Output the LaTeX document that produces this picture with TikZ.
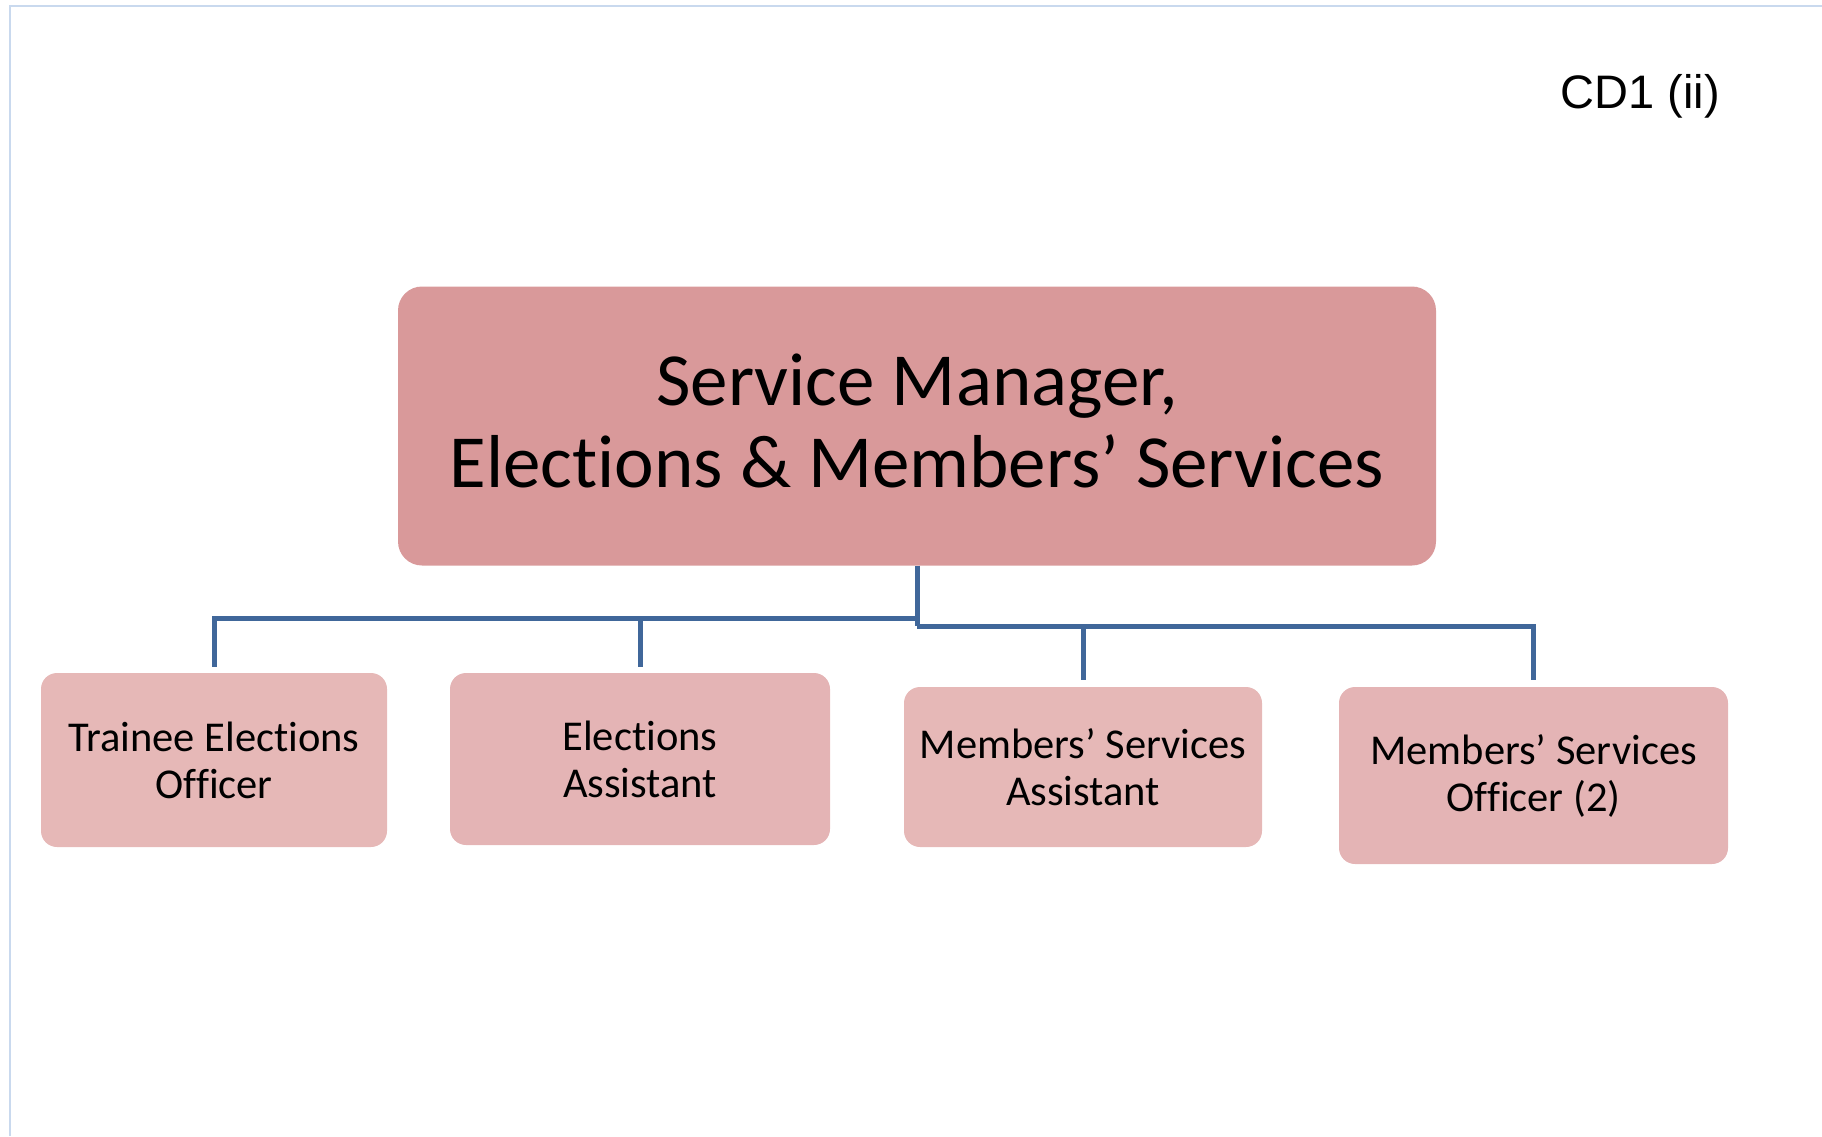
\documentclass[tikz,border=0pt]{standalone}
\usepackage{fontspec}
\setmainfont{Carlito}[Ligatures=NoCommon]
\newfontfamily\cdfont{Liberation Sans}
\usepackage{xcolor}
\usepackage{tikz}
\definecolor{headpink}{HTML}{D9999A}
\definecolor{postpink}{HTML}{E6B8B7}
\definecolor{postdots}{HTML}{E4B4B5}
\definecolor{linkblue}{HTML}{40679A}
\definecolor{pageline}{HTML}{C9D9EE}
\tikzstyle{head}=[%
      rectangle, rounded corners=24pt, draw=none, fill=headpink,
      minimum width=1038pt, minimum height=279pt, inner sep=0pt, align=center,
      text depth=10pt, font=\fontsize{75}{82}\selectfont
]
\tikzstyle{post}=[%
      rectangle, rounded corners=16pt, draw=none, fill=postpink,
      inner sep=0pt, align=center, font=\fontsize{42.5}{47}\selectfont
]
\tikzstyle{link}=[draw=linkblue, line width=5pt]
\begin{document}
\begin{tikzpicture}[x=1pt, y=-1pt]
\useasboundingbox (0,0) rectangle (1822,1136);
\draw[pageline, line width=2pt] (10,1136) -- (10,6) -- (1822,6);

\node[anchor=base west, font=\cdfont\fontsize{47}{56}\selectfont] (tag) at (1557,108) {CD1 (ii)};

\node[head](mgr) at (917,426) {Service Manager,\\Elections \& Members’ Services};
\node[post, minimum width=346pt, minimum height=174pt](trainee) at (214,760) {Trainee Elections\\Officer};
\node[post, fill=postdots, minimum width=380pt, minimum height=172pt](ea) at (640,759) {Elections\\Assistant};
\node[post, minimum width=358pt, minimum height=160pt](msa) at (1083,767) {Members’ Services\\Assistant};
\node[post, fill=postdots, minimum width=389pt, minimum height=177pt](mso) at (1533.5,775.5) {Members’ Services\\Officer (2)};

\coordinate (busL) at (917,618);
\coordinate (busR) at (917,626);

\draw[link](mgr.south) -- (busR);
\draw[link](busL) -| ([yshift=6pt]trainee.north);
\draw[link](ea.north |- busL) -- ([yshift=6pt]ea.north);
\draw[link](busR) -| ([yshift=7pt]mso.north);
\draw[link](msa.north |- busR) -- ([yshift=7pt]msa.north);
\end{tikzpicture}
\end{document}
